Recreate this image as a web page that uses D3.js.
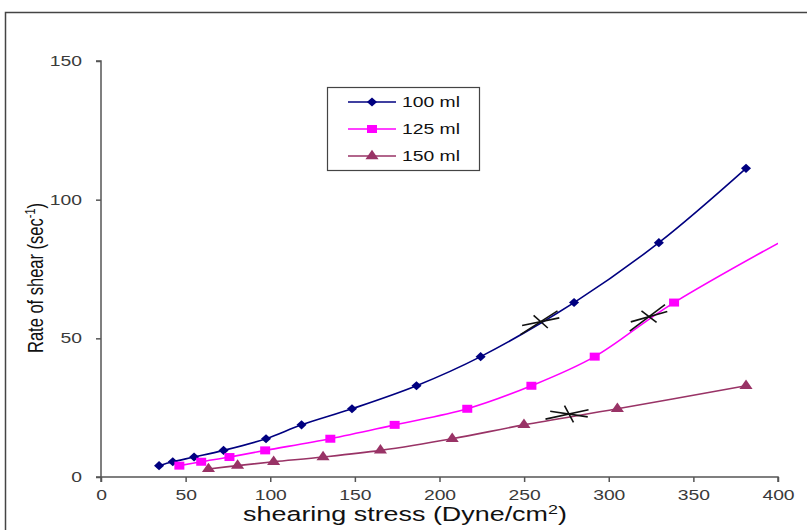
<!DOCTYPE html>
<html><head><meta charset="utf-8">
<script src="https://cdn.jsdelivr.net/npm/d3@7/dist/d3.min.js"></script>
<style>
html,body{margin:0;padding:0;background:#fff;}
svg{display:block;font-family:"Liberation Sans",Arial,sans-serif;}
</style></head>
<body>
<svg id="chart" width="807" height="530"></svg>
<script>
// ---- data ----
const xTicks = [0, 50, 100, 150, 200, 250, 300, 350, 400];
const yTicks = [0, 50, 100, 150];
const seriesNames = ["100 ml", "125 ml", "150 ml"];
const stress100 = [34.3, 42.4, 55.0, 72.4, 97.5, 118.5, 148.3, 186.4, 224.3, 279.5, 329.6, 381.1];
const rate100   = [4.1, 5.5, 7.2, 9.6, 13.8, 18.8, 24.6, 32.9, 43.4, 62.9, 84.5, 111.3];
const stress125 = [46.3, 59.2, 75.9, 97.0, 135.5, 173.5, 216.4, 254.3, 291.7, 338.6, 482];
const rate125   = [4.1, 5.5, 7.2, 9.6, 13.8, 18.8, 24.6, 32.9, 43.4, 62.9, 111.3];
const stress150 = [63.5, 80.7, 102.0, 131.2, 165.1, 207.5, 249.9, 305.1, 381.1];
const rate150   = [2.9, 4.1, 5.5, 7.2, 9.6, 13.8, 18.8, 24.6, 32.9];
// hand-drawn cross marks on each curve (stress, rate)
const markStress = [259.8, 323.8, 276.5];
const markRate   = [56.0, 57.8, 22.7];

const colors = ["#000080", "#FF00FF", "#993366"];
const symbols = [d3.symbolSquare, d3.symbolSquare, d3.symbolTriangle];
const symSizes = [46, 64, 52];
const symXforms = [" scale(1.05,0.95) rotate(45)", " scale(1.25,1)", " scale(1.2,1)"];
const textStretch = 1.38;

const series = [
  stress100.map((x, i) => ({x, y: rate100[i]})),
  stress125.map((x, i) => ({x, y: rate125[i]})),
  stress150.map((x, i) => ({x, y: rate150[i]}))
];

const svg = d3.select("#chart");
const pL = 101, pR = 778, pT = 61, pB = 477;
const x = d3.scaleLinear().domain([0, 400]).range([pL, pR]);
const y = d3.scaleLinear().domain([0, 150]).range([pB, pT]);

// outer frame
svg.append("rect").attr("x", 5.5).attr("y", 12.5).attr("width", 810).attr("height", 530)
  .attr("fill", "none").attr("stroke", "#444").attr("stroke-width", 1.5);

svg.append("defs").append("clipPath").attr("id", "plotclip")
  .append("rect").attr("x", pL).attr("y", pT - 10).attr("width", pR - pL).attr("height", pB - pT + 10);

// axes
const axisColor = "#555";
const gx = svg.append("g").attr("transform", `translate(0,${pB})`)
  .call(d3.axisBottom(x).tickValues(xTicks).tickSize(5).tickPadding(8).tickFormat(d3.format("d")));
const gy = svg.append("g").attr("transform", `translate(${pL},0)`)
  .call(d3.axisLeft(y).tickValues(yTicks).tickSize(5).tickPadding(10).tickFormat(d3.format("d")));
[gx, gy].forEach(g => {
  g.select(".domain").attr("stroke", axisColor).attr("stroke-width", 1.5);
  g.selectAll(".tick line").attr("stroke", axisColor).attr("stroke-width", 1.5);
  g.selectAll(".tick text").attr("fill", "#3a3a3a").style("font-size", "14px")
    .style("font-family", "Liberation Sans, Arial, sans-serif");
});
gx.selectAll(".tick text").attr("transform", `scale(${textStretch},1)`).attr("x", 0);
gy.selectAll(".tick text").attr("transform", `translate(-19,0) scale(${textStretch},1)`).attr("x", 0);
gx.select(".domain").attr("d", `M${pL},5V0H${pR}V5`);
gy.select(".domain").attr("d", `M-5,${pT}H0V${pB}H-5`);

// lines and markers
const line = d3.line().x(d => x(d.x)).y(d => y(d.y)).curve(d3.curveCatmullRom.alpha(0.5));
const plot = svg.append("g").attr("clip-path", "url(#plotclip)");
series.forEach((s, i) => {
  plot.append("path").datum(s).attr("d", line).attr("fill", "none")
    .attr("stroke", colors[i]).attr("stroke-width", 1.6);
});
series.forEach((s, i) => {
  plot.selectAll(null).data(s).enter().append("path")
    .attr("d", d3.symbol().type(symbols[i]).size(symSizes[i]))
    .attr("transform", d => `translate(${x(d.x)},${y(d.y)})` + symXforms[i])
    .attr("fill", colors[i]);
});

// cross marks
markStress.forEach((ms, i) => {
  const cx = x(ms), cy = y(markRate[i]);
  const s = series[i];
  let k = 0; while (k < s.length - 2 && s[k + 1].x < ms) k++;
  const ang = Math.atan2(y(s[k + 1].y) - y(s[k].y), x(s[k + 1].x) - x(s[k].x));
  const g = svg.append("g").attr("transform", `translate(${cx},${cy}) rotate(${ang * 180 / Math.PI})`);
  const segs = [[-24, 1, 20, -1], [-18, -6, 18, 6], [-3, -9, 3, 9]];
  segs.forEach(sg => g.append("line").attr("x1", sg[0]).attr("y1", sg[1]).attr("x2", sg[2]).attr("y2", sg[3])
    .attr("stroke", "#111").attr("stroke-width", 1.6));
});

// axis titles
svg.append("text").attr("transform", `translate(405,521) scale(${textStretch},1)`).attr("text-anchor", "middle")
  .style("font-size", "19.5px").attr("fill", "#111")
  .html('shearing stress (Dyne/cm<tspan dy="-7" font-size="13">2</tspan><tspan dy="7">)</tspan>');
svg.append("text").attr("transform", `translate(43,278) scale(${textStretch},1) rotate(-90)`).attr("text-anchor", "middle")
  .style("font-size", "16.5px")
  .attr("fill", "#111")
  .html('Rate of shear (sec<tspan dy="-6" font-size="11">-1</tspan><tspan dy="6">)</tspan>');

// legend
const lg = svg.append("g");
lg.append("rect").attr("x", 327.5).attr("y", 87.5).attr("width", 152).attr("height", 83)
  .attr("fill", "#fff").attr("stroke", "#444").attr("stroke-width", 1.2);
const rowY = [102, 129, 156];
seriesNames.forEach((n, i) => {
  lg.append("line").attr("x1", 348).attr("x2", 396).attr("y1", rowY[i]).attr("y2", rowY[i])
    .attr("stroke", colors[i]).attr("stroke-width", 1.6);
  lg.append("path").attr("d", d3.symbol().type(symbols[i]).size(symSizes[i]))
    .attr("transform", `translate(372,${rowY[i]})` + symXforms[i])
    .attr("fill", colors[i]);
  lg.append("text").attr("transform", `translate(402,${rowY[i] + 5}) scale(${textStretch},1)`).text(n)
    .style("font-size", "14px").attr("fill", "#111");
});
</script>
</body></html>
